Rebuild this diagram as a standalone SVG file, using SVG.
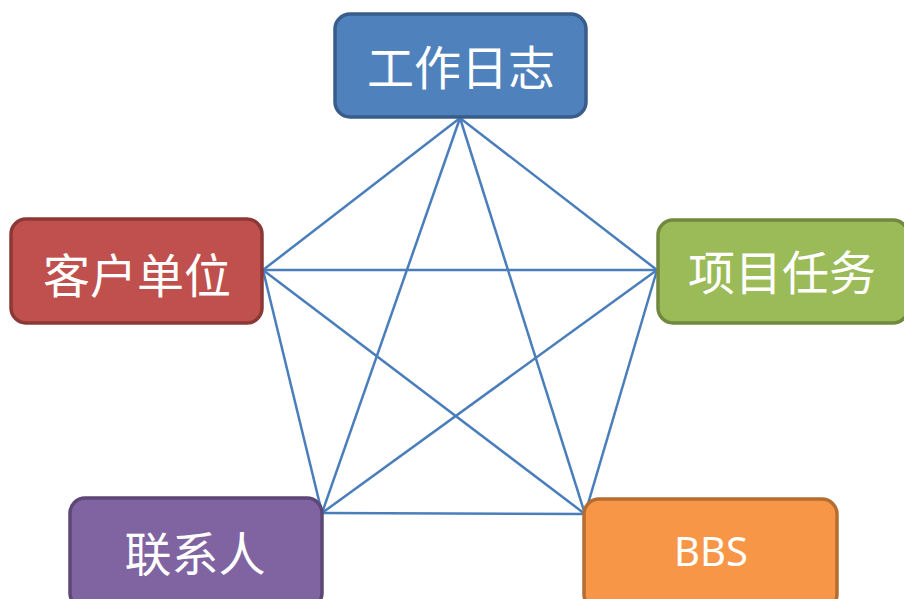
<svg xmlns="http://www.w3.org/2000/svg" width="904" height="599" viewBox="0 0 904 599">
<style>
.box{stroke-width:3.5}
.lbl{fill:#fff;font-family:"Noto Sans","Noto Sans CJK SC",sans-serif;font-size:47px;text-anchor:middle}
.edge{stroke:#4A7EBB;stroke-width:2.5;fill:none}
</style>
<rect width="904" height="599" fill="#fff"/>
<g id="connectors">
<line class="edge" x1="460" y1="118" x2="263" y2="270"/>
<line class="edge" x1="460" y1="118" x2="657" y2="270"/>
<line class="edge" x1="460" y1="118" x2="322" y2="513"/>
<line class="edge" x1="460" y1="118" x2="585" y2="514"/>
<line class="edge" x1="263" y1="270" x2="657" y2="270"/>
<line class="edge" x1="263" y1="270" x2="322" y2="513"/>
<line class="edge" x1="263" y1="270" x2="585" y2="514"/>
<line class="edge" x1="657" y1="270" x2="322" y2="513"/>
<line class="edge" x1="657" y1="270" x2="585" y2="514"/>
<line class="edge" x1="322" y1="513" x2="585" y2="514"/>
</g>
<g id="worklog">
<rect class="box" x="335" y="14" width="251" height="103" rx="15" fill="#4F81BD" stroke="#385D8A"/>
<text class="lbl" x="461" y="85">工作日志</text>
</g>
<g id="customer">
<rect class="box" x="11" y="219" width="251" height="104" rx="15" fill="#C0504D" stroke="#8C3836"/>
<text class="lbl" x="137" y="293">客户单位</text>
</g>
<g id="project">
<rect class="box" x="658" y="220" width="250" height="103" rx="15" fill="#9BBB59" stroke="#71893F"/>
<text class="lbl" x="782" y="290">项目任务</text>
</g>
<g id="contact">
<rect class="box" x="70" y="498" width="252" height="110" rx="15" fill="#8064A2" stroke="#5C4776"/>
<text class="lbl" x="195" y="571">联系人</text>
</g>
<g id="bbs">
<rect class="box" x="584" y="499" width="253" height="110" rx="15" fill="#F79646" stroke="#B66D31"/>
<text class="lbl" x="711" y="566" style="font-size:40px">BBS</text>
</g>
</svg>
